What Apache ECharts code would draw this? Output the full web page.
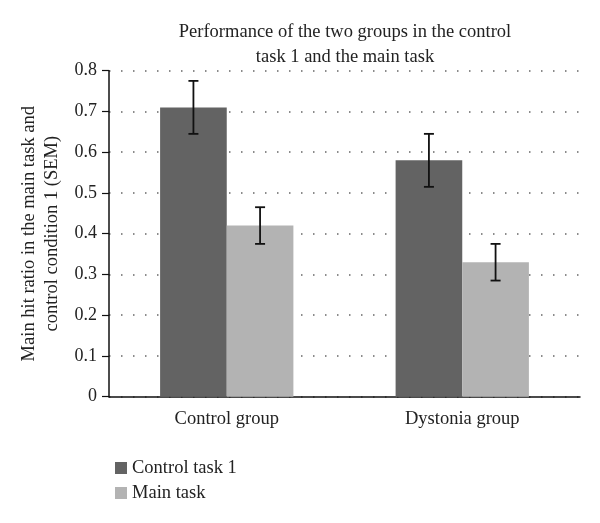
<!DOCTYPE html>
<html><head><meta charset="utf-8">
<script src="https://cdn.jsdelivr.net/npm/echarts@6/dist/echarts.min.js"></script>
<style>html,body{margin:0;padding:0;background:#fff}#c{width:600px;height:523px}</style>
</head><body><div id="c"></div>
<script>
const categories = ['Control group', 'Dystonia group'];
const seriesNames = ['Control task 1', 'Main task'];
const controlTask1 = [0.71, 0.58];
const controlTask1Err = [0.065, 0.065];
const mainTask = [0.42, 0.33];
const mainTaskErr = [0.045, 0.045];
const yTicks = [0, 0.1, 0.2, 0.3, 0.4, 0.5, 0.6, 0.7, 0.8];

const FONT = '"Liberation Serif", "DejaVu Serif", serif';
const colors = ['#636363', '#b3b3b3'];
const catGap = 0.434;

function errSeries(values, errs, sign) {
  return {
    type: 'custom',
    data: values.map((v, i) => [i, v - errs[i], v + errs[i]]),
    z: 10,
    silent: true,
    renderItem: function (params, api) {
      const i = api.value(0);
      const band = api.size([1, 0])[0];
      const off = sign * band * (1 - catGap) / 4;
      const lo = api.coord([i, api.value(1)]);
      const hi = api.coord([i, api.value(2)]);
      const x = lo[0] + off;
      const cap = 5;
      const style = { stroke: '#111', lineWidth: 1.8, fill: null };
      return {
        type: 'group',
        children: [
          { type: 'line', shape: { x1: x, y1: lo[1], x2: x, y2: hi[1] }, style },
          { type: 'line', shape: { x1: x - cap, y1: lo[1], x2: x + cap, y2: lo[1] }, style },
          { type: 'line', shape: { x1: x - cap, y1: hi[1], x2: x + cap, y2: hi[1] }, style }
        ]
      };
    }
  };
}

const chart = echarts.init(document.getElementById('c'));
chart.setOption({
  animation: false,
  textStyle: { fontFamily: FONT },
  title: {
    text: 'Performance of the two groups in the control\ntask 1 and the main task',
    left: 340, top: 15, textAlign: 'center',
    textStyle: { fontFamily: FONT, fontSize: 18.5, fontWeight: 'normal', color: '#222', lineHeight: 25 }
  },
  legend: {
    orient: 'vertical', left: 110, top: 453.5,
    icon: 'rect', itemWidth: 12, itemHeight: 12, itemGap: 6,
    data: seriesNames,
    textStyle: { fontFamily: FONT, fontSize: 18.5, color: '#222', lineHeight: 18 }
  },
  grid: { left: 109, right: 20, top: 70.7, bottom: 126.3, containLabel: false },
  xAxis: {
    type: 'category', data: categories,
    axisLine: { lineStyle: { color: '#111', width: 1.5 } },
    axisTick: { show: false },
    axisLabel: { fontFamily: FONT, fontSize: 18.5, color: '#222', margin: 13 }
  },
  yAxis: {
    type: 'value', min: yTicks[0], max: yTicks[yTicks.length - 1], interval: 0.1,
    name: 'Main hit ratio in the main task and\ncontrol condition 1 (SEM)',
    nameLocation: 'middle', nameGap: 41, nameRotate: 90,
    nameTextStyle: { fontFamily: FONT, fontSize: 18.5, color: '#222', lineHeight: 23 },
    axisLine: { show: true, lineStyle: { color: '#111', width: 1.5 } },
    axisTick: { show: true, length: 7, lineStyle: { color: '#111', width: 1.2 } },
    axisLabel: { fontFamily: FONT, fontSize: 18, color: '#222', margin: 12,
      formatter: v => String(Math.round(v * 10) / 10) },
    splitLine: { show: true, lineStyle: { color: '#666', width: 1.5, type: [1.5, 10.5] } }
  },
  series: [
    { name: seriesNames[0], type: 'bar', data: controlTask1, itemStyle: { color: colors[0] },
      barGap: '0%', barCategoryGap: (catGap * 100) + '%' },
    { name: seriesNames[1], type: 'bar', data: mainTask, itemStyle: { color: colors[1] },
      barGap: '0%', barCategoryGap: (catGap * 100) + '%' },
    errSeries(controlTask1, controlTask1Err, -1),
    errSeries(mainTask, mainTaskErr, 1)
  ]
});
</script>
</body></html>
